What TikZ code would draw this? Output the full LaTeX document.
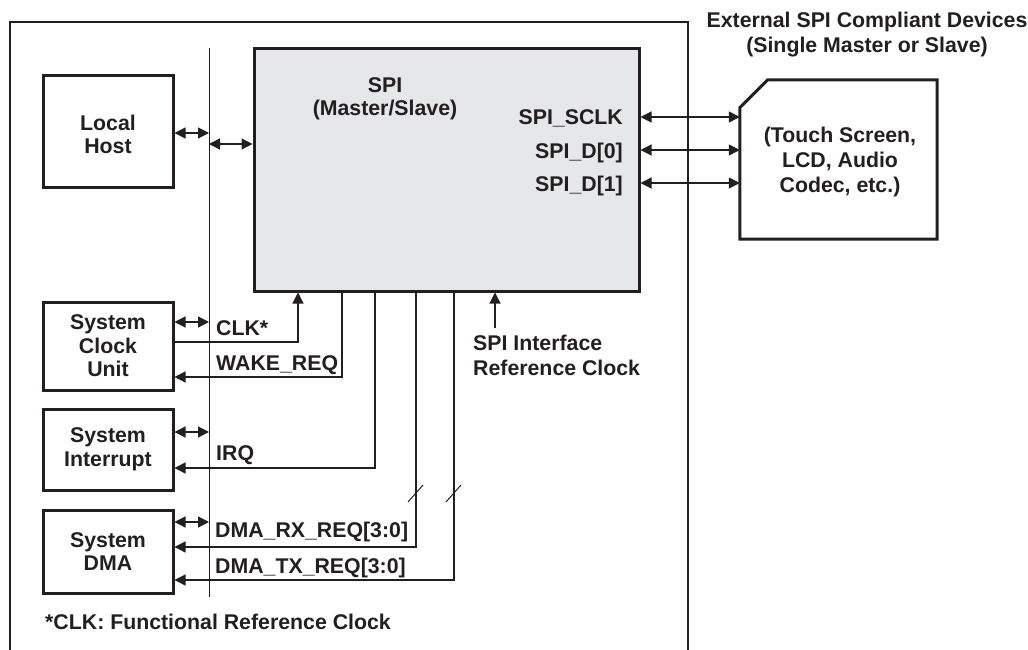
\documentclass[tikz,border=0pt]{standalone}
\usepackage{fontspec}
\setmainfont{Liberation Sans}
\usetikzlibrary{arrows.meta,calc}
\definecolor{ink}{RGB}{35,31,32}
\definecolor{spigray}{RGB}{230,231,232}
\tikzset{
  every node/.style={font=\bfseries\fontsize{21.3}{23.5}\selectfont, text=ink},
  blk/.style={draw=ink, line width=3pt, align=center, minimum width=130pt},
  lbl/.style={anchor=base west, inner sep=0pt},
  sig/.style={draw=ink, line width=1.2pt},
  arr/.style={sig, -{Triangle[length=11pt,width=11pt]}},
  dblarr/.style={sig, {Triangle[length=11pt,width=11pt]}-{Triangle[length=11pt,width=11pt]}},
}
\begin{document}
\begin{tikzpicture}[x=1pt,y=-1pt]
        \useasboundingbox (0,0) rectangle (1028,650);

        \draw [ink, line width=2pt] (10,650) -- (10,22) -- (688,22) -- (688,650);

        \coordinate (bus) at (209,48);
        \coordinate (busend) at (209,597);
        \coordinate (refclk) at (495,328);
        \draw [ink, line width=1pt] (bus) -- (busend);

        \node [blk, minimum height=111pt, text height=45pt] (host) at (108,131.5) {Local\\Host};
        \node [blk, minimum height=88pt] (clk) at (108,346) {System\\Clock\\Unit};
        \node [blk, minimum height=81pt] (irq) at (108,449.5) {System\\Interrupt};
        \node [blk, minimum height=83pt] (dma) at (108,551.5) {System\\DMA};

        \node [draw=ink, line width=3pt, fill=spigray, minimum width=385pt, minimum height=242pt] (spi) at (446.5,170) {};
        \node [anchor=base] (spiname) at (385,92.5) {SPI};
        \node [anchor=base] (spimode) at (385,115.5) {(Master/Slave)};

        \node [minimum width=197pt, minimum height=159pt] (ext) at (838.5,159.5) {};
        \node [anchor=base] (ext1) at (840,142.5) {(Touch Screen,};
        \node [anchor=base] (ext2) at (840,167.5) {LCD, Audio};
        \node [anchor=base] (ext3) at (840,192.5) {Codec, etc.)};
        \draw [ink, line width=3pt] (ext.south west) -- ($(ext.north west)+(0,28)$) -- ($(ext.north west)+(28,0)$) -- (ext.north east) -- (ext.south east) -- cycle;
        \node [anchor=base] (title1) at (867,27.5) {External SPI Compliant Devices};
        \node [anchor=base] (title2) at (867,52.5) {(Single Master or Slave)};

        \foreach \y/\t [count=\i] in {117/SPI\_SCLK,150/SPI\_D[0],183/SPI\_D[1]} {
            \node [anchor=base east, inner sep=0pt] (pin\i) at (623,\y+8) {\t};
            \draw [dblarr] (spi.east |- 0,\y) -- (ext.west |- 0,\y);
        }

        \draw [dblarr] (host.east |- 0,133) -- (bus |- 0,133);
        \draw [dblarr] (bus |- 0,144) -- (spi.west |- 0,144);
        \draw [dblarr] (clk.east |- 0,322) -- (bus |- 0,322);
        \draw [dblarr] (irq.east |- 0,432) -- (bus |- 0,432);
        \draw [dblarr] (dma.east |- 0,522) -- (bus |- 0,522);

        \draw [arr] (clk.east |- 0,342) -| (spi.south -| 298,0);
        \draw [arr] (spi.south -| 342,0) |- (clk.east |- 0,377);
        \draw [arr] (spi.south -| 375,0) |- (irq.east |- 0,468);
        \draw [arr] (spi.south -| 416,0) |- (dma.east |- 0,547);
        \draw [arr] (spi.south -| 454,0) |- (dma.east |- 0,580);
        \draw [arr] (refclk) -- (spi.south -| refclk);
        \foreach \x in {416,454}
            \draw [ink, line width=1pt] (\x-8,502) -- (\x+7,485);

        \node [lbl] (clklbl) at (216,335.5) {CLK*};
        \node [lbl] (wakelbl) at (216,370.5) {WAKE\_REQ};
        \node [lbl] (irqlbl) at (216,460.5) {IRQ};
        \node [lbl] (rxlbl) at (215,537.5) {DMA\_RX\_REQ[3:0]};
        \node [lbl] (txlbl) at (215,573.5) {DMA\_TX\_REQ[3:0]};
        \node [lbl] (ref1) at (473,350.5) {SPI Interface};
        \node [lbl] (ref2) at (473,375.5) {Reference Clock};
        \node [lbl] (note) at (45,629.5) {*CLK: Functional Reference Clock};
    \end{tikzpicture}
\end{document}
